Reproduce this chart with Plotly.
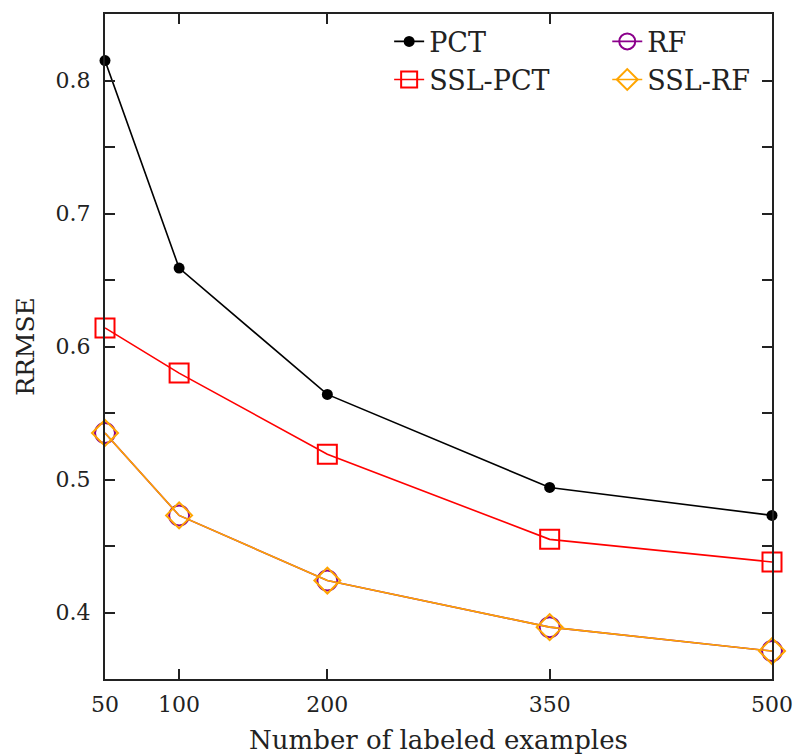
import plotly.graph_objects as go

x_vals = [50, 100, 200, 350, 500]
pct = [0.815, 0.659, 0.564, 0.494, 0.473]
ssl_pct = [0.614, 0.580, 0.519, 0.455, 0.438]
rf = [0.535, 0.473, 0.424, 0.389, 0.371]
ssl_rf = [0.535, 0.473, 0.424, 0.389, 0.371]
x_ticks = [50, 100, 200, 350, 500]
y_ticks = [0.4, 0.5, 0.6, 0.7, 0.8]
y_minor = [0.45, 0.55, 0.65, 0.75]

FONT = "DejaVu Serif"
INK = "#222222"

fig = go.Figure()
fig.add_trace(go.Scatter(x=x_vals, y=pct, name="PCT", mode="lines+markers",
                         line=dict(color="black", width=1.6),
                         marker=dict(symbol="circle", size=11, color="black"),
                         cliponaxis=False, legend="legend"))
fig.add_trace(go.Scatter(x=x_vals, y=ssl_pct, name="SSL-PCT", mode="lines+markers",
                         line=dict(color="#ff0000", width=1.6),
                         marker=dict(symbol="square-open", size=19, color="#ff0000",
                                     line=dict(width=2)),
                         cliponaxis=False, legend="legend"))
fig.add_trace(go.Scatter(x=x_vals, y=rf, name="RF", mode="lines+markers",
                         line=dict(color="#8b008b", width=1.6),
                         marker=dict(symbol="circle-open", size=20, color="#8b008b",
                                     line=dict(width=2)),
                         cliponaxis=False, legend="legend2"))
fig.add_trace(go.Scatter(x=x_vals, y=ssl_rf, name="SSL-RF", mode="lines+markers",
                         line=dict(color="#ffa500", width=1.6),
                         marker=dict(symbol="diamond-open", size=20, color="#ffa500",
                                     line=dict(width=2)),
                         cliponaxis=False, legend="legend2"))

axis_common = dict(showline=True, linecolor=INK, linewidth=2, mirror="allticks",
                   ticks="inside", ticklen=10, tickwidth=2, tickcolor=INK,
                   showgrid=False, zeroline=False, ticklabeloverflow="allow",
                   automargin=False,
                   tickfont=dict(family=FONT, size=22, color=INK))

fig.update_xaxes(**axis_common, range=[50, 500], tickvals=x_ticks,
                 ticktext=[str(v) for v in x_ticks], ticklabelstandoff=5,
                 title=dict(text="Number of labeled examples",
                            font=dict(family=FONT, size=26, color=INK), standoff=14))
fig.update_yaxes(**axis_common, range=[0.35, 0.85], tickvals=y_ticks,
                 ticktext=[f"{v:.1f}" for v in y_ticks], ticklabelstandoff=8,
                 minor=dict(tickvals=y_minor, ticks="inside",
                            ticklen=10, tickwidth=2, tickcolor=INK),
                 title=dict(text="RRMSE", font=dict(family=FONT, size=25, color=INK),
                            standoff=14))

legend_common = dict(font=dict(family=FONT, size=27, color=INK),
                     bgcolor="rgba(0,0,0,0)", yanchor="top", xanchor="left",
                     tracegroupgap=0)
fig.update_layout(
    width=797, height=755,
    margin=dict(l=105, r=25, t=14, b=76),
    plot_bgcolor="white", paper_bgcolor="white",
    legend=dict(**legend_common, x=0.426, y=0.995),
    legend2=dict(**legend_common, x=0.753, y=0.995),
    showlegend=True,
)

fig.write_html("out.html")
